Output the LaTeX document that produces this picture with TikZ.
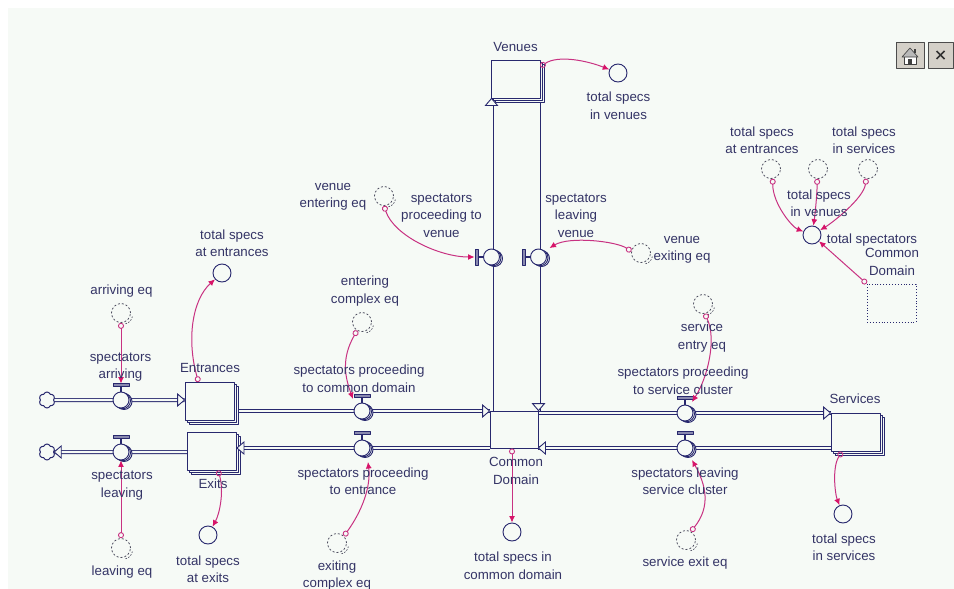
\documentclass[tikz,border=0pt]{standalone}
\usepackage{fontspec}
\setmainfont{Liberation Sans}
\usetikzlibrary{arrows.meta,shapes.symbols,shadows,calc}
\pgfdeclarelayer{bglayer}
\pgfdeclarelayer{pipelayer}
\pgfsetlayers{bglayer,pipelayer,main}
\definecolor{panel}{RGB}{246,250,246}
\definecolor{navy}{RGB}{40,40,110}
\definecolor{txtc}{RGB}{52,52,102}
\definecolor{connc}{RGB}{200,50,130}
\definecolor{tipc}{RGB}{215,20,105}
\definecolor{ghostc}{RGB}{60,60,80}
\definecolor{btn}{RGB}{212,208,200}
\begin{document}
\begin{tikzpicture}[x=1pt,y=-1pt,line join=round,
  stock/.style={rectangle, draw=navy, line width=0.9pt, fill=panel, minimum width=49pt, minimum height=38pt, inner sep=0pt,
    copy shadow={shadow xshift=4pt, shadow yshift=-4pt, draw=navy, fill=panel, line width=0.9pt},
    copy shadow={shadow xshift=2pt, shadow yshift=-2pt, draw=navy, fill=panel, line width=0.9pt}},
  cdbox/.style={rectangle, draw=navy, line width=0.9pt, fill=panel, minimum width=48pt, minimum height=37pt, inner sep=0pt},
  valve/.style={circle, draw=navy, line width=0.9pt, fill=panel, minimum size=16pt, inner sep=0pt,
    copy shadow={shadow xshift=3pt, shadow yshift=-1.5pt, draw=navy, fill=panel, line width=0.9pt},
    copy shadow={shadow xshift=1.5pt, shadow yshift=-0.75pt, draw=navy, fill=panel, line width=0.9pt}},
  cloudn/.style={cloud, cloud puffs=6, cloud puff arc=140, aspect=1, draw=navy, line width=1pt, fill=panel, minimum width=16pt, minimum height=16pt, inner sep=0pt},
  conv/.style={circle, draw=navy, line width=0.9pt, fill=panel, minimum size=18pt, inner sep=0pt},
  ghost/.style={circle, draw=ghostc, dash pattern=on 2pt off 2pt, line width=0.7pt, minimum size=19pt, inner sep=0pt},
  ghostmark/.style={draw=ghostc, dash pattern=on 1.5pt off 1.5pt, line width=0.6pt},
  lbl/.style={text=txtc, font=\fontsize{13.3}{17.5}\selectfont, align=center, inner sep=0pt},
  pipe/.style={draw=navy, line width=0.9pt, double=panel, double distance=2.2pt},
  conn/.style={draw=connc, line width=1pt, {Circle[open, length=6pt, width=6pt, line width=0.9pt]}-{Latex[length=6.5pt, width=6pt, color=tipc]}},
  handlebar/.style={draw=navy, fill=navy!55, line width=0.7pt},
  stem/.style={draw=navy, line width=1.2pt},
  ftip/.pic={\draw[navy, fill=panel, line width=0.9pt, line join=miter] (0,0) -- (-7,-6) -- (-7,6) -- cycle;}
]
\useasboundingbox (0,0) rectangle (954,589);
\begin{pgfonlayer}{bglayer}
\fill[white] (0,0) rectangle (954,589);
\fill[panel] (8,8) rectangle (954,589);
\end{pgfonlayer}

% stocks
\node[stock] (venues) at (515.5,79) {};
\node[stock] (ent) at (209.5,401.5) {};
\node[stock] (exits) at (212,451) {};
\node[stock] (services) at (855.5,432.5) {};
\node[cdbox] (common) at (514,429.5) {};
\node[draw=navy, dotted, line width=0.9pt, minimum width=49pt, minimum height=38pt, inner sep=0pt] (dbox) at (891.5,303) {};

% clouds
\node[cloudn] (cloudA) at (47,400) {};
\node[cloudn] (cloudB) at (47,452) {};

% valves
\node[valve] (varr) at (121,400) {};
\node[valve] (vleave) at (121,452) {};
\node[valve] (vpcd) at (362,411) {};
\node[valve] (vpte) at (362,448) {};
\node[valve] (vpsc) at (685,413) {};
\node[valve] (vlsc) at (685,448) {};
\node[valve] (vptv) at (491.5,257) {};
\node[valve] (vslv) at (538.5,257) {};

% pipes
\begin{pgfonlayer}{pipelayer}
\draw[pipe] (cloudA) -- (ent.west |- cloudA);
\draw[pipe] (ent.east |- vpcd) -- (common.west |- vpcd);
\draw[pipe] (common.west |- vpte) -- (exits.east |- vpte);
\draw[pipe] (exits.west |- vleave) -- (cloudB);
\draw[pipe] (common.east |- vpsc) -- (services.west |- vpsc);
\draw[pipe] (services.west |- vlsc) -- (common.east |- vlsc);
\draw[pipe] (vptv |- common.north) -- (vptv |- venues.south);
\draw[pipe] (vslv |- venues.south) -- (vslv |- common.north);
\end{pgfonlayer}

% pipe arrow tips
\pic at (ent.west |- cloudA) {ftip};
\pic at (common.west |- vpcd) {ftip};
\pic[rotate=180] at (exits.east |- vpte) {ftip};
\pic[rotate=180] at (cloudB.east) {ftip};
\pic at (services.west |- vpsc) {ftip};
\pic[rotate=180] at (common.east |- vlsc) {ftip};
\pic[rotate=90] at (vptv |- venues.south) {ftip};
\pic[rotate=-90] at (vslv |- common.north) {ftip};

% valve handles
\foreach \v in {varr,vleave,vpcd,vpte,vpsc,vlsc}{
  \draw[stem] (\v.north) -- ++(0,-5);
  \draw[handlebar] ([xshift=-8pt,yshift=5pt]\v.north) rectangle ([xshift=8pt,yshift=8pt]\v.north);
}
\foreach \v in {vptv,vslv}{
  \draw[stem] (\v.west) -- ++(-5,0);
  \draw[handlebar] ([xshift=-5pt,yshift=-8pt]\v.west) rectangle ([xshift=-8pt,yshift=8pt]\v.west);
}

% converters
\node[conv] (ctsv) at (618,73) {};
\node[conv] (ctse) at (222,273) {};
\node[conv] (ctsx) at (208,535) {};
\node[conv] (ctscd) at (512,532) {};
\node[conv] (ctss) at (843,514) {};
\node[conv] (cts) at (812,235) {};

% ghosts
\node[ghost] (garr) at (121,313) {};
\node[ghost] (gleave) at (121,548) {};
\node[ghost] (gece) at (362,322) {};
\node[ghost] (gxce) at (337,543) {};
\node[ghost] (gven) at (384,196) {};
\node[ghost] (gvex) at (641,253) {};
\node[ghost] (gsen) at (703,304) {};
\node[ghost] (gsex) at (686,540) {};
\node[ghost] (gtseb) at (771,169) {};
\node[ghost] (gtsvb) at (818,169) {};
\node[ghost] (gtssb) at (868,169) {};
\foreach \g in {garr,gleave,gece,gxce,gven,gvex,gsen,gsex}{
  \draw[ghostmark] ([shift={(2.5,2)}]\g.center) ++(10:9) arc[start angle=10, end angle=80, radius=9];
}

% connectors
\draw[conn] ([yshift=-7pt]venues.north east) .. controls +(18,-12) and +(-30,-12) .. (ctsv);
\draw[conn] ([xshift=14pt]ent.north west) .. controls +(-12,-42) and +(-30,27) .. (ctse);
\draw[conn] ([xshift=6pt]exits.south) .. controls +(6,20) and +(12,-22) .. (ctsx);
\draw[conn] (garr.south) -- ([yshift=8pt]varr.north);
\draw[conn] (gleave.north) -- (vleave.south);
\draw[conn] (gece.-120) .. controls +(-16,28) and +(-8,-22) .. ([xshift=-9pt,yshift=12pt]vpcd.center);
\draw[conn] (gxce.45) .. controls +(18,-25) and +(3,25) .. ([xshift=6pt,yshift=-14pt]vpte.center);
\draw[conn] (gven.south) .. controls +(10,30) and +(-35,0) .. ([xshift=-17pt]vptv.center);
\draw[conn] (gvex.170) .. controls +(-15,-10) and +(20,-12) .. ([xshift=11pt,yshift=9pt]vslv.center);
\draw[conn] (gsen.-80) .. controls +(12,25) and +(16,-25) .. ([xshift=7pt,yshift=11pt]vpsc.center);
\draw[conn] (gsex.60) .. controls +(20,-25) and +(14,25) .. ([xshift=7pt,yshift=-12pt]vlsc.center);
\draw[conn] ([xshift=-2pt]common.south) -- (ctscd);
\draw[conn] ([xshift=-13.5pt]services.south) .. controls +(-10,15) and +(-8,-20) .. (ctss);
\draw[conn] (gtseb.-80) .. controls +(0,25) and +(-20,-8) .. (cts);
\draw[conn] (gtsvb.-95) .. controls +(0,15) and +(3,-20) .. (cts);
\draw[conn] (gtssb.-100) .. controls +(-3,20) and +(20,-12) .. (cts);
\draw[conn] (dbox.north west) -- (cts);

% labels
\node[lbl] (tVen) at (515.5,46.5) {Venues};
\node[lbl] (tTsv) at (618.5,105.5) {total specs\\in venues};
\node[lbl] (tVenEq) at (333,197) {venue\\entering eq};
\node[lbl] (tPtv) at (441.5,215.5) {spectators\\proceeding to\\venue};
\node[lbl] (tSlv) at (576,215.5) {spectators\\leaving\\venue};
\node[lbl] (tVexEq) at (682,250) {venue\\exiting eq};
\node[lbl] (tTse) at (232,243) {total specs\\at entrances};
\node[lbl] (tArrEq) at (121.5,291) {arriving eq};
\node[lbl] (tArr) at (120.5,367) {spectators\\arriving};
\node[lbl] (tEnt) at (210,368) {Entrances};
\node[lbl] (tLeave) at (122,485.5) {spectators\\leaving};
\node[lbl] (tExits) at (213,484) {Exits};
\node[lbl] (tLeaveEq) at (122,572) {leaving eq};
\node[lbl] (tTsx) at (208,569) {total specs\\at exits};
\node[lbl] (tEceq) at (365,291) {entering\\complex eq};
\node[lbl] (tPcd) at (359,378.5) {spectators proceeding\\to common domain};
\node[lbl] (tPte) at (363,481) {spectators proceeding\\to entrance};
\node[lbl] (tXceq) at (337,575.5) {exiting\\complex eq};
\node[lbl] (tCommon) at (516,471) {Common\\Domain};
\node[lbl] (tTscd) at (513,565.5) {total specs in\\common domain};
\node[lbl] (tSenEq) at (702,337) {service\\entry eq};
\node[lbl] (tPsc) at (683,380.5) {spectators proceeding\\to service cluster};
\node[lbl] (tServices) at (855,399) {Services};
\node[lbl] (tLsc) at (685,481) {spectators leaving\\service cluster};
\node[lbl] (tSexEq) at (685,563) {service exit eq};
\node[lbl] (tTss) at (844,547) {total specs\\in services};
\node[lbl] (tTse2) at (762,140) {total specs\\at entrances};
\node[lbl] (tTss2) at (864,140) {total specs\\in services};
\node[lbl] (tTsv2) at (819,203) {total specs\\in venues};
\node[lbl] (tTs) at (872,240) {total spectators};
\node[lbl] (tCD2) at (892,262) {Common\\Domain};

% buttons
\node[draw=gray!60!black, fill=btn, line width=0.8pt, minimum width=28pt, minimum height=26pt, inner sep=0pt] (bhome) at (910,55) {};
\node[draw=gray!60!black, fill=btn, line width=0.8pt, minimum width=25pt, minimum height=26pt, inner sep=0pt] (bclose) at (940.5,55) {};
\begin{scope}[shift={(bhome.center)}]
\draw[fill=white, draw=black!75, line width=0.6pt] (-6,1) rectangle (6,9);
\draw[fill=gray!55, draw=black!75, line width=0.6pt] (-8,2) -- (0,-7) -- (8,2) -- cycle;
\fill[black!75] (4,-6) rectangle (6,-2);
\fill[black!75] (-2,4) rectangle (2,9);
\end{scope}
\draw[line width=1.6pt, black!80] ([shift={(-4,-4)}]bclose.center) -- ([shift={(4,4)}]bclose.center);
\draw[line width=1.6pt, black!80] ([shift={(-4,4)}]bclose.center) -- ([shift={(4,-4)}]bclose.center);
\end{tikzpicture}
\end{document}
